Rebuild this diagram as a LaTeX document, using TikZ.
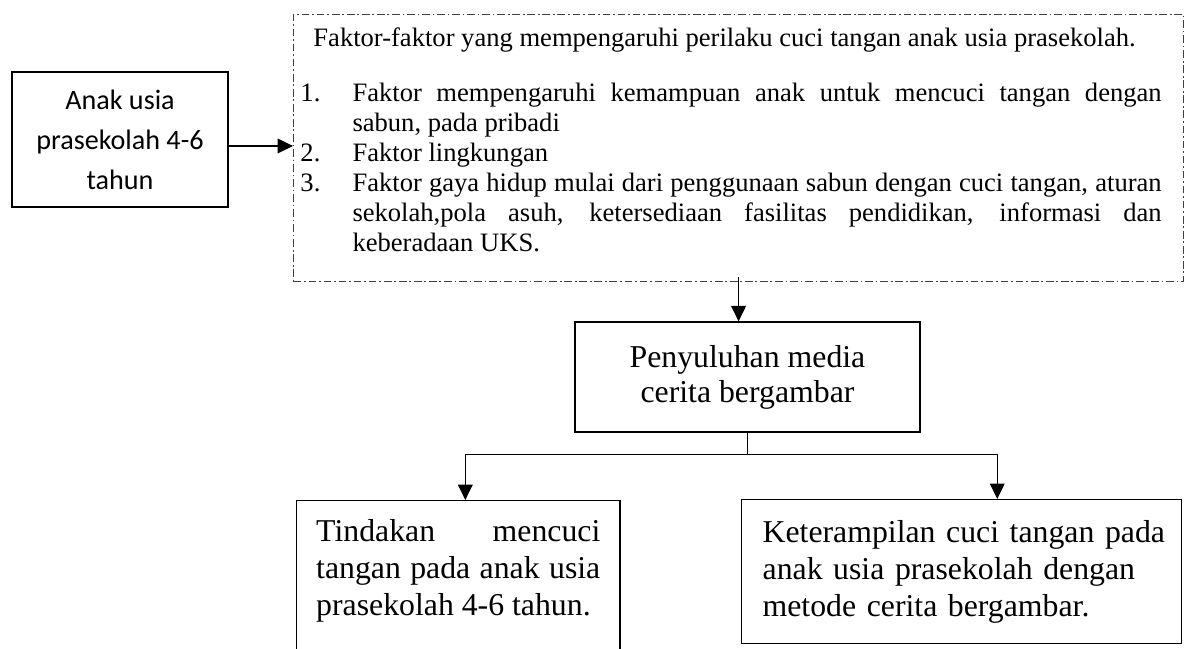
\documentclass[tikz,border=0pt]{standalone}
\usepackage{fontspec}
\setmainfont{Liberation Serif}
\newfontfamily\calibrifont{Carlito}
\usetikzlibrary{arrows.meta,positioning}
\tikzset{
  kidbox/.style={draw,line width=.9pt,align=center,minimum width=5.4cm,minimum height=3.375cm,inner sep=0pt,font=\calibrifont\fontsize{20pt}{28.5pt}\selectfont},
  factbox/.style={draw=black!75,line width=.7pt,dash pattern=on 5.5pt off 2pt on 1.2pt off 2pt,anchor=north west,text width=21.9cm,inner xsep=.175cm,inner ysep=.33cm,align=justify,font=\fontsize{18.9pt}{21.3pt}\selectfont},
  mediabox/.style={draw,line width=.9pt,align=center,minimum width=8.625cm,minimum height=2.75cm,inner sep=0pt,font=\fontsize{22.6pt}{25pt}\selectfont},
  outbox/.style={draw,line width=.9pt,anchor=north west,font=\fontsize{22.6pt}{26.3pt}\selectfont},
  flowarr/.style={-{Triangle[length=11pt,width=10.5pt]},line width=.9pt},
  flowline/.style={line width=.9pt}
}
\newcommand{\factlab}[1]{\hangindent=37pt\hangafter=1\noindent\makebox[37pt][l]{#1}}

\begin{document}
\begin{tikzpicture}[x=0.025cm,y=-0.025cm]
  \useasboundingbox (0,0) rectangle (1193,649);
  \clip (0,0) rectangle (1193,649);

  % left box
  \node[kidbox] (kid) at (120,139.5) {Anak usia\\prasekolah 4-6\\tahun};

  % factors, dash-dot frame
  \node[factbox] (factors) at (293,14) {\rightskip=10.7pt\relax
    \noindent\hspace*{9.2pt}Faktor-faktor yang mempengaruhi perilaku cuci tangan anak usia prasekolah.\par
    \vspace{17.8pt}
    \factlab{1.}Faktor mempengaruhi kemampuan anak untuk mencuci tangan dengan\linebreak sabun, pada pribadi\par
    \factlab{2.}Faktor lingkungan\par
    \factlab{3.}Faktor gaya hidup mulai dari penggunaan sabun dengan cuci tangan, aturan\linebreak sekolah,pola asuh, ketersediaan fasilitas pendidikan, informasi dan\linebreak keberadaan UKS.\rule[-12pt]{0pt}{12pt}\par};

  % middle box
  \node[mediabox] (media) at (747.5,377) {Penyuluhan media\\cerita bergambar};

  % outcome boxes
  \node[outbox,text width=7.1cm,inner xsep=.49cm,inner ysep=.46cm,align=justify] (action) at (296,500)
    {Tindakan mencuci\linebreak tangan pada anak usia\linebreak prasekolah 4-6 tahun.\rule[-50pt]{0pt}{50pt}};
  \node[outbox,text width=10.2cm,inner xsep=.4cm,inner ysep=0pt,minimum height=3.6cm,align=left] (skill) at (741,499)
    {\hspace*{.125cm}Keterampilan cuci tangan pada\\\hspace*{.125cm}anak usia prasekolah dengan\\\hspace*{.125cm}metode cerita bergambar.};

  % connectors
  \coordinate (kidout) at ([yshift=-4.6pt]kid.east);
  \draw[flowarr] (kidout) -- (kidout -| factors.west);
  \draw[flowarr] ([yshift=3.5pt]factors.south) -- (factors.south |- media.north);
  \coordinate (split) at ([yshift=-15.6pt]media.south);
  \coordinate (actin) at ([xshift=5pt]action.north);
  \coordinate (skillin) at ([xshift=25.3pt]skill.north);
  \draw[flowline] (media.south) -- (split);
  \draw[flowarr] (split) -| (actin);
  \draw[flowarr] (split) -| (skillin);
\end{tikzpicture}
\end{document}
